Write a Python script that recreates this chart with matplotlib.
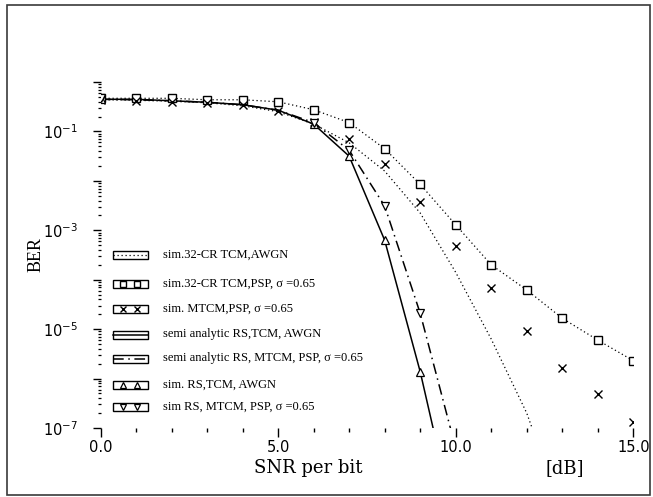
import matplotlib
matplotlib.use("Agg")
import matplotlib.pyplot as plt
import numpy as np
from matplotlib.ticker import FixedLocator, FuncFormatter, MultipleLocator, NullFormatter
from matplotlib.patches import Rectangle

plt.rcParams['mathtext.fontset'] = 'dejavusans'

# SNR per bit [dB]
snr_full = [0, 1, 2, 3, 4, 5, 6, 7, 8, 9, 10, 11, 12, 13, 14, 15]
snr_awgn_sim = [0, 1, 2, 3, 4, 5, 6, 7, 8, 9, 10, 11, 12, 13]
snr_semi = [0, 1, 2, 3, 4, 5, 6, 7, 8, 9, 10]
snr_rs_sim = [0, 6, 7, 8, 9]

# sim. 32-CR TCM, AWGN (dotted curve)
ber_tcm_awgn = [0.437, 0.427, 0.407, 0.380, 0.331, 0.251, 0.141, 0.0589,
                0.0158, 2.24e-3, 1.41e-4, 6.3e-6, 2.0e-7, 2.0e-9]
# sim. 32-CR TCM, PSP, sigma = 0.65 (squares)
ber_tcm_psp = [0.468, 0.468, 0.468, 0.437, 0.437, 0.398, 0.275, 0.151,
               0.0447, 8.5e-3, 1.29e-3, 2.0e-4, 6.2e-5, 1.66e-5, 6.0e-6, 2.3e-6]
# sim. MTCM, PSP, sigma = 0.65 (crosses)
ber_mtcm_psp = [0.437, 0.417, 0.398, 0.380, 0.339, 0.263, 0.158, 0.0708,
                0.0224, 3.8e-3, 4.9e-4, 6.9e-5, 9.3e-6, 1.66e-6, 4.8e-7, 1.3e-7]
# semi analytic RS, TCM, AWGN (solid)
ber_semi_tcm = [0.447, 0.447, 0.417, 0.389, 0.347, 0.269, 0.141, 0.0316,
                6.3e-4, 1.38e-6, 1.0e-9]
# semi analytic RS, MTCM, PSP, sigma = 0.65 (dash-dot)
ber_semi_mtcm = [0.447, 0.437, 0.417, 0.389, 0.347, 0.269, 0.151, 0.0417,
                 3.1e-3, 2.1e-5, 3.9e-8]
# sim. RS, TCM, AWGN (up triangles)
ber_rs_tcm = [0.447, 0.141, 0.0316, 6.3e-4, 1.38e-6]
# sim RS, MTCM, PSP, sigma = 0.65 (down triangles)
ber_rs_mtcm = [0.468, 0.151, 0.0417, 3.1e-3, 2.1e-5]

legend_labels = [
    "sim.32-CR TCM,AWGN",
    "sim.32-CR TCM,PSP, \u03c3 =0.65",
    "sim. MTCM,PSP, \u03c3 =0.65",
    "semi analytic RS,TCM, AWGN",
    "semi analytic RS, MTCM, PSP, \u03c3 =0.65",
    "sim. RS,TCM, AWGN",
    "sim RS, MTCM, PSP, \u03c3 =0.65",
]

x_ticks = [0, 5, 10, 15]
y_decades = [0, -1, -2, -3, -4, -5, -6, -7]

W, H = 653, 497
fig = plt.figure(figsize=(W / 100, H / 100), dpi=100)
ax_l, ax_r, ax_t, ax_b = 100.5, 633.3, 82.0, 428.0
ax = fig.add_axes([ax_l / W, 1 - ax_b / H, (ax_r - ax_l) / W, (ax_b - ax_t) / H])

dotted = (0, (1, 2.2))
dashdot = (0, (7, 3, 1, 3))
k = 'black'

styles = [
    dict(color=k, lw=0.9, ls=dotted),
    dict(color=k, lw=0.9, ls=dotted, marker='s', ms=5.6, mfc='white', mec=k, mew=1.0),
    dict(color=k, lw=0, ls='none', marker='x', ms=6, mec=k, mew=1.0),
    dict(color=k, lw=1.1, ls='-'),
    dict(color=k, lw=1.1, ls=dashdot),
    dict(color=k, lw=0, ls='none', marker='^', ms=5.8, mfc='white', mec=k, mew=0.9),
    dict(color=k, lw=0, ls='none', marker='v', ms=5.8, mfc='white', mec=k, mew=0.9),
]

ax.plot(snr_awgn_sim, ber_tcm_awgn, **styles[0])
ax.plot(snr_semi, ber_semi_tcm, **styles[3])
ax.plot(snr_semi, ber_semi_mtcm, **styles[4])
ax.plot(snr_full, ber_tcm_psp, **styles[1])
ax.plot(snr_full, ber_mtcm_psp, **styles[2])
ax.plot(snr_rs_sim, ber_rs_tcm, **styles[5])
ax.plot(snr_rs_sim, ber_rs_mtcm, **styles[6])

ax.set_yscale('log')
ax.set_xlim(0, 15)
ax.set_ylim(1e-7, 1)

for s in ax.spines.values():
    s.set_visible(False)

# x axis ticks
ax.xaxis.set_major_locator(FixedLocator(x_ticks))
ax.xaxis.set_minor_locator(MultipleLocator(1))
ax.xaxis.set_major_formatter(FuncFormatter(lambda v, p: f"{v:.1f}"))
ax.tick_params(axis='x', which='major', direction='out', length=6.5, width=1.0,
               pad=2, labelsize=10.5)
ax.tick_params(axis='x', which='minor', direction='out', length=3, width=1.0)

# y axis ticks: every decade, labels on odd exponents
ax.yaxis.set_major_locator(FixedLocator([10.0 ** d for d in y_decades]))
minor = [m * 10.0 ** d for d in y_decades[1:] for m in range(2, 10)]
ax.yaxis.set_minor_locator(FixedLocator(minor))
ax.yaxis.set_minor_formatter(NullFormatter())


def ylab(v, p):
    e = int(round(np.log10(v)))
    return rf"$10^{{{e}}}$" if e % 2 else ""


ax.yaxis.set_major_formatter(FuncFormatter(ylab))
ax.tick_params(axis='y', which='major', direction='out', length=6, width=1.0,
               pad=10, labelsize=10.5)
ax.tick_params(axis='y', which='minor', direction='out', length=2.5, width=0.9)

# axis titles
fig.text(36 / W, 1 - 255 / H, "BER", rotation=90, ha='center', va='center',
         family='Liberation Serif', fontsize=13)
fig.text(308 / W, 1 - 468 / H, "SNR per bit", ha='center', va='center',
         family='DejaVu Serif', fontsize=13)
fig.text(565 / W, 1 - 468 / H, "[dB]", ha='center', va='center',
         family='DejaVu Serif', fontsize=13)

# legend drawn as boxed samples
aw, ah = ax_r - ax_l, ax_b - ax_t
row_y = [255, 283.5, 309, 334.5, 358.5, 385, 406.5]
bx0, bx1, bh = 113, 148, 8
mk_x = [123, 137]
for i, (lab, st) in enumerate(zip(legend_labels, styles)):
    yc = (ax_b - row_y[i]) / ah
    x0 = (bx0 - ax_l) / aw
    x1 = (bx1 - ax_l) / aw
    hh = bh / ah
    ax.add_patch(Rectangle((x0, yc - hh / 2), x1 - x0, hh, transform=ax.transAxes,
                           fill=False, edgecolor=k, lw=1.0, clip_on=False))
    if st.get('marker') is None:
        ax.plot([x0, x1], [yc, yc], transform=ax.transAxes, clip_on=False,
                color=k, lw=st['lw'], ls=st['ls'])
    else:
        ms = dict(st)
        ms['ms'] = st['ms'] * 0.75
        ms['ls'] = 'none'
        ax.plot([(m - ax_l) / aw for m in mk_x], [yc, yc], transform=ax.transAxes,
                clip_on=False, **ms)
    ax.text((163 - ax_l) / aw, yc, lab, transform=ax.transAxes, ha='left',
            va='center', family='Liberation Serif', fontsize=9)

# outer frame
fig.add_artist(Rectangle((6.5 / W, 2 / H), (650 - 6.5) / W, (495 - 4.7) / H,
                         transform=fig.transFigure, fill=False,
                         edgecolor='#3a3a3a', lw=1.2))

fig.savefig("out.png", dpi=100)
